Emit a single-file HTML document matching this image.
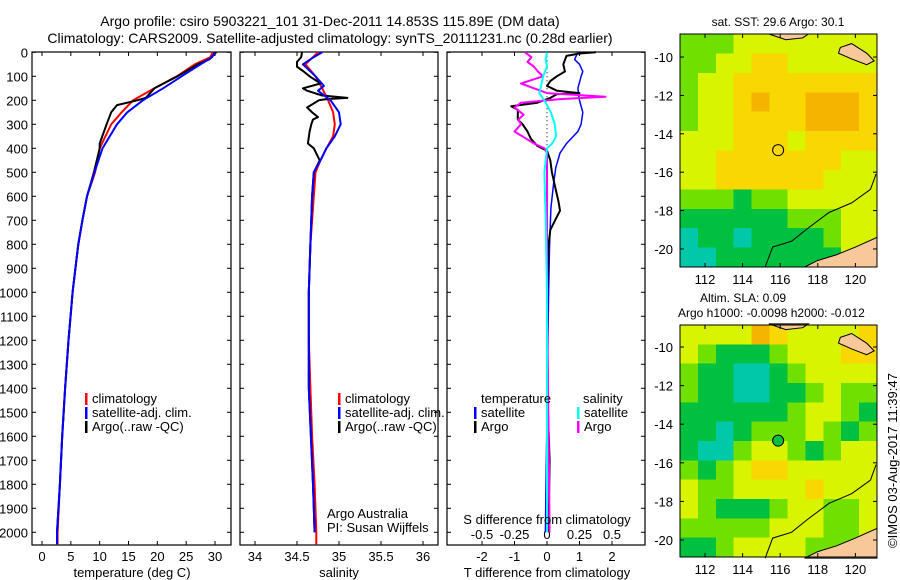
<!DOCTYPE html>
<html><head><meta charset="utf-8">
<style>
body{margin:0;background:#fff;}
svg{display:block;font-family:"Liberation Sans",sans-serif;}
text{fill:#000;}
</style></head>
<body>
<svg id="fig" width="900" height="580" viewBox="0 0 900 580" xmlns="http://www.w3.org/2000/svg">
<rect width="900" height="580" fill="#fff"/>
<text x="330" y="26" font-size="14" text-anchor="middle">Argo profile: csiro 5903221_101 31-Dec-2011 14.853S 115.89E (DM data)</text>
<text x="330" y="43" font-size="14" text-anchor="middle">Climatology: CARS2009. Satellite-adjusted climatology: synTS_20111231.nc (0.28d earlier)</text>
<g id="g"></g>
<text transform="translate(897,548) rotate(-90)" font-size="13">©IMOS 03-Aug-2017 11:39:47</text>
</svg>
<script>
// ---- data ----
const tDepth = [0,20,50,100,150,200,250,300,400,500,600,700,800,900,1000,1200,1400,1600,1800,2000,2050];
const tClim  = [29.6,29.2,26.5,23.4,19.5,15.8,13.8,12.0,10.0,9.2,7.8,7.0,6.3,5.8,5.3,4.6,4.0,3.5,3.1,2.7,2.7];
const tSat   = [30.0,29.5,27.5,24.2,21.0,17.5,14.8,13.0,10.5,9.1,7.8,7.0,6.3,5.8,5.3,4.6,4.0,3.5,3.1,2.6,2.6];
const argoTDepth = [0,30,50,100,150,190,200,220,250,300,380,400,500,600,700,800,1000,1200,1400,1600,1800,2000];
const argoT = [30.2,29.0,27.0,23.5,19.5,18.0,16.5,13.0,12.0,11.2,10.0,10.0,9.0,7.8,7.0,6.3,5.3,4.6,4.0,3.5,3.1,2.6];
const sDepth = [0,50,100,150,200,250,300,350,400,450,500,600,800,1000,1200,1400,1600,1800,2000,2050];
const sClim  = [34.75,34.6,34.72,34.8,34.87,34.93,34.95,34.93,34.85,34.78,34.72,34.7,34.66,34.64,34.64,34.66,34.68,34.71,34.73,34.73];
const sSatDepth = [0,20,50,100,140,160,200,250,300,350,400,450,500,600,800,1000,1400,1800,2000];
const sSat = [34.8,34.7,34.57,34.72,34.82,34.75,34.9,35.0,35.02,34.95,34.85,34.78,34.7,34.68,34.66,34.64,34.64,34.69,34.71];
const argoSDepth = [0,20,40,60,80,100,130,150,160,180,190,195,200,230,250,270,280,300,330,380,400,450,500,600,800,1000,1400,1800,2000];
const argoS = [34.56,34.55,34.5,34.5,34.58,34.65,34.78,34.57,34.62,34.8,35.1,34.85,34.76,34.62,34.68,34.75,34.69,34.67,34.65,34.63,34.7,34.77,34.7,34.68,34.66,34.64,34.64,34.69,34.71];
const dTSatDepth = [0,30,50,80,100,150,200,250,300,330,380,420,480,550,650,800,1000,1500,2000];
const dTSat = [0.95,0.85,1.0,1.1,1.05,0.95,1.0,1.1,1.05,0.95,0.6,0.4,0.27,0.2,0.12,0.08,0.05,0.0,-0.05];
const dTArgoDepth = [0,5,15,50,80,100,120,140,160,170,175,190,210,225,240,280,300,330,360,390,410,450,500,560,620,660,700,740,800,1000,1500,1700,2000];
const dTArgo = [1.5,1.0,0.6,0.5,0.55,0.3,0.1,0.0,0.3,1.0,0.3,0.1,-0.3,-1.1,-0.9,-0.9,-0.75,-0.6,-0.5,-0.3,0.0,0.1,0.15,0.25,0.35,0.4,0.25,0.1,0.05,0.0,0.03,0.08,0.05];
const dSSatDepth = [0,30,60,100,150,170,200,250,300,350,380,400,500,700,1000,2000];
const dSSat = [0.0,-0.01,0.0,-0.03,-0.05,-0.06,-0.02,0.03,0.06,0.07,0.04,0.0,-0.02,-0.01,0.0,0.0];
const dSArgoDepth = [0,20,40,60,80,100,130,150,170,185,195,210,230,260,280,300,330,360,380,400,420,500,1000,2000];
const dSArgo = [-0.17,-0.12,-0.15,-0.1,-0.07,-0.03,-0.2,-0.1,0.0,0.45,0.1,-0.2,-0.25,-0.18,-0.22,-0.2,-0.25,-0.16,-0.1,-0.02,0.0,0.0,0.0,0.02];
const depthTicks = [0,100,200,300,400,500,600,700,800,900,1000,1100,1200,1300,1400,1500,1600,1700,1800,1900,2000];
const tTicks = [0,5,10,15,20,25,30];
const sTicks = [34,34.5,35,35.5,36];
const dTTicks = [-2,-1,0,1,2];
const dSTicks = [-0.5,-0.25,0,0.25,0.5];
const dSTickLabels = ["-0.5","-0.25","0","0.25","0.5"];
const lonTicks = [112,114,116,118,120];
const latTicks = [-10,-12,-14,-16,-18,-20];
const sstGrid = [
[3,3,3,4,4,4,4,4,4,4,4],
[3,3,4,4,5,5,4,4,4,4,4],
[3,4,4,5,5,5,5,5,5,5,5],
[3,4,4,5,6,5,5,6,6,6,5],
[3,4,4,5,5,5,5,6,6,6,5],
[4,4,4,5,5,5,4,5,5,5,5],
[4,4,5,5,5,5,5,5,5,4,4],
[4,4,5,5,5,5,5,5,4,4,4],
[3,3,3,2,3,3,4,4,4,4,4],
[2,2,2,2,2,2,3,3,3,4,4],
[1,2,2,1,2,2,2,2,3,4,4],
[1,1,2,2,2,2,2,2,2,4,4]];
const slaGrid = [
[4,4,4,4,6,5,4,4,4,4,5],
[4,3,2,2,2,3,4,4,4,5,5],
[3,2,2,1,1,2,3,4,4,4,4],
[3,2,2,1,1,2,2,3,4,3,3],
[2,2,2,2,2,2,3,4,4,3,2],
[2,2,1,2,3,3,3,4,3,2,3],
[2,1,1,3,4,4,3,2,3,4,4],
[3,2,3,4,5,5,4,4,4,4,4],
[4,3,3,4,4,4,4,5,4,4,4],
[4,3,2,2,2,3,4,4,3,3,4],
[3,3,3,3,3,4,4,4,3,3,4],
[2,2,3,4,4,4,4,3,3,3,4]];
const argoLon = 115.89, argoLat = -14.853;

// ---- helpers ----
const NS="http://www.w3.org/2000/svg";
const G=document.getElementById('g');
function el(tag,attrs,parent){const e=document.createElementNS(NS,tag);for(const k in attrs)e.setAttribute(k,attrs[k]);(parent||G).appendChild(e);return e;}
function txt(x,y,s,size,anchor,parent){const t=el('text',{x:x,y:y,'font-size':size||13,'text-anchor':anchor||'start'},parent);t.textContent=s;return t;}
const TOP=52, BOT=545;
const yD=d=>52.3+d*0.24;
function lin(d0,p0,d1,p1){return v=>p0+(v-d0)*(p1-p0)/(d1-d0);}

function panel(x0,x1,name){
  const r=el('rect',{x:x0,y:TOP,width:x1-x0,height:BOT-TOP,fill:'none',stroke:'#000','stroke-width':1.2});
  
  
  for(const d of depthTicks){const y=yD(d);
    el('line',{x1:x0,x2:x0+4,y1:y,y2:y,stroke:'#000'});
    el('line',{x1:x1,x2:x1-4,y1:y,y2:y,stroke:'#000'});}
}
function xticks(x0,x1,ticks,fx,labels,ly){
  ticks.forEach((t,i)=>{const x=fx(t);
    el('line',{x1:x,x2:x,y1:BOT,y2:BOT-4,stroke:'#000'});
    el('line',{x1:x,x2:x,y1:TOP,y2:TOP+4,stroke:'#000'});
    if(labels){const l=txt(x,ly,labels[i],13,'middle');
      
      }
  });
}
function line(depths,vals,fx,color,name,w){
  const pts=depths.map((d,i)=>fx(vals[i]).toFixed(1)+','+yD(d).toFixed(1)).join(' ');
  const p=el('polyline',{points:pts,fill:'none',stroke:color,'stroke-width':w||2,'stroke-linejoin':'round'});
  
  
}
function legend(x,y,color,label){
  el('rect',{x:x,y:y-10,width:2.5,height:12,fill:color});
  const t=txt(x+7,y,label,13);
  
  
}

// ---- panel 1: temperature ----
const fT=lin(0,42,30,215);
panel(32,231,'temperature-panel');
for(const d of depthTicks){const l=txt(28,yD(d)+5,String(d),13,'end');
  
  }
xticks(32,231,tTicks,fT,tTicks.map(String),561);
line(tDepth,tClim,fT,'#f00','temp-climatology-line');
line(argoTDepth,argoT,fT,'#000','temp-argo-line');
line(tDepth,tSat,fT,'#00f','temp-satellite-line');
legend(85,403,'#f00','climatology');
legend(85,417,'#00f','satellite-adj. clim.');
legend(85,431,'#000','Argo(..raw -QC)');
{const l=txt(132,577,'temperature (deg C)',13,'middle');}

// ---- panel 2: salinity ----
const fS=lin(34,255,36,423);
panel(240,438,'salinity-panel');
xticks(240,438,sTicks,fS,["34","34.5","35","35.5","36"],561);
line(sDepth,sClim,fS,'#f00','sal-climatology-line');
line(argoSDepth,argoS,fS,'#000','sal-argo-line');
line(sSatDepth,sSat,fS,'#00f','sal-satellite-line');
legend(338,403,'#f00','climatology');
legend(338,417,'#00f','satellite-adj. clim.');
legend(338,431,'#000','Argo(..raw -QC)');
txt(327,518,'Argo Australia',13);
txt(327,532,'PI: Susan Wijffels',13);
{const l=txt(339,577,'salinity',13,'middle');}

// ---- panel 3: differences ----
const fDT=lin(0,547,1,579.5);
const fDS=lin(0,547,0.5,612);
panel(447,645,'difference-panel');
xticks(447,645,dTTicks,fDT,["-2","-1","0","1","2"],561);
dSTicks.forEach((t,i)=>{const l=txt(fDS(t),539,dSTickLabels[i],13,'middle');
  
  });
el('line',{x1:547,x2:547,y1:yD(0),y2:yD(400),stroke:'#000','stroke-dasharray':'1,3'});
line(dTSatDepth,dTSat,fDT,'#00f','t-diff-satellite-line',1.5);
line(dTArgoDepth,dTArgo,fDT,'#000','t-diff-argo-line',2);
line(dSArgoDepth,dSArgo,fDS,'#f0f','s-diff-argo-line',2);
line(dSSatDepth,dSSat,fDS,'#0ff','s-diff-satellite-line',2);
txt(481,403,'temperature',13);
legend(474,417,'#00f','satellite');
legend(474,431,'#000','Argo');
txt(583,403,'salinity',13);
legend(577,417,'#0ff','satellite');
legend(577,431,'#f0f','Argo');
txt(547,524,'S difference from climatology',13,'middle');
{const l=txt(547,577,'T difference from climatology',13,'middle');}

// ---- maps ----
const palette=['#fff','#00c8a8','#00c040','#70e000','#d8f400','#f8d800','#f4b400'];
function map(y0,y1,grid,name,filled){
  const x0=680,x1=877,lonL=110.67,lonR=121.15;
  const latT=-8.8-(y0===34?0:0.06), latB=(y0===34?-20.94:-20.88);
  const fx=lin(lonL,x0,lonR,x1), fy=lin(latT,y0,latB,y1);
  const nr=grid.length,nc=grid[0].length,cw=(x1-x0)/nc,ch=(y1-y0)/nr;
  const gg=el('g',{'shape-rendering':'crispEdges'});
  
  
  grid.forEach((row,r)=>row.forEach((v,c)=>{
    el('rect',{x:x0+c*cw,y:y0+r*ch,width:cw+0.5,height:ch+0.5,fill:palette[v]},gg);}));
  // land
  const land=[[119.2,-9.5],[119.8,-9.3],[120.6,-9.8],[121,-10.2],[120.6,-10.4],[119.8,-10.1],[119.1,-9.8]];
  el('polygon',{points:land.map(p=>fx(p[0])+','+fy(p[1])).join(' '),fill:'#f8c898',stroke:'#000'});
  const aus=[[117.3,-20.94],[118,-20.6],[119,-20.3],[120,-19.9],[121.15,-19.4],[121.15,-20.94]];
  el('polygon',{points:aus.map(p=>fx(p[0])+','+fy(p[1])).join(' '),fill:'#f8c898',stroke:'#000'});
  el('polygon',{points:[[115.4,-8.8],[117.5,-8.8],[117.2,-9.0],[116.3,-9.1]].map(p=>fx(p[0])+','+fy(p[1])).join(' '),fill:'#f8c898',stroke:'#000'});
  const coast=[[115.2,-20.94],[115.6,-19.9],[116.6,-19.6],[117.5,-18.9],[118.6,-18.1],[119.8,-17.6],[120.8,-16.9],[121.1,-16.1]];
  el('polyline',{points:coast.map(p=>fx(p[0])+','+fy(p[1])).join(' '),fill:'none',stroke:'#000'});
  el('rect',{x:x0,y:y0,width:x1-x0,height:y1-y0,fill:'none',stroke:'#000'});
  const c=el('circle',{cx:fx(argoLon),cy:fy(argoLat),r:5.5,fill:filled?'#00c040':'none',stroke:'#000'});
  
  
  lonTicks.forEach(t=>{const x=fx(t);
    el('line',{x1:x,x2:x,y1:y1,y2:y1-4,stroke:'#000'});el('line',{x1:x,x2:x,y1:y0,y2:y0+4,stroke:'#000'});
    txt(x,y1+17,String(t),13,'middle');});
  latTicks.forEach(t=>{const y=fy(t);
    el('line',{x1:x0,x2:x0+4,y1:y,y2:y,stroke:'#000'});el('line',{x1:x1,x2:x1-4,y1:y,y2:y,stroke:'#000'});
    txt(673,y+5,String(t),13,'end');});
}
map(34,267,sstGrid,'sst-map',false);
map(325,557,slaGrid,'sla-map',true);
txt(778,26,'sat. SST: 29.6 Argo: 30.1',12,'middle');
txt(700,302,'Altim. SLA: 0.09',12,'start');
txt(678,317,'Argo h1000: -0.0098 h2000: -0.012',12,'start');
</script>
</body></html>
